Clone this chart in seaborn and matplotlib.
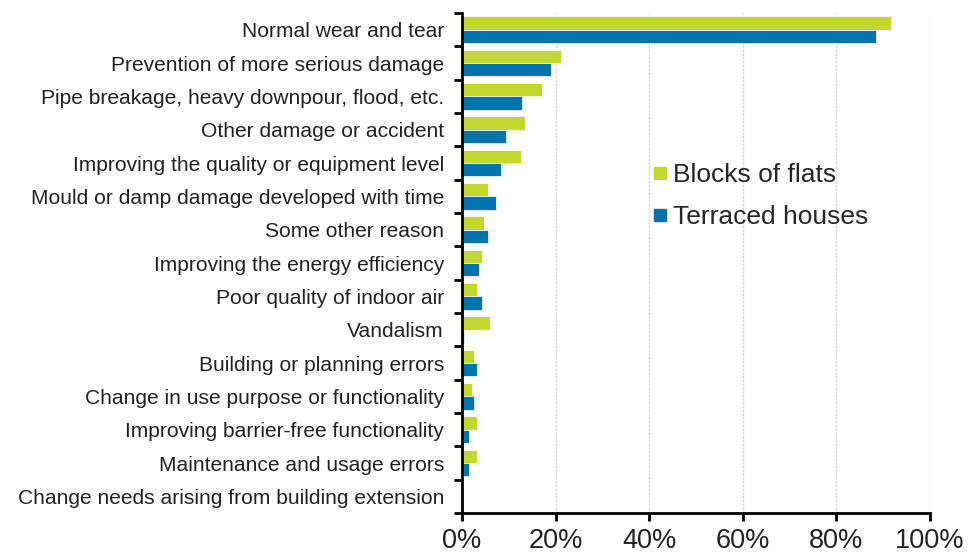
import matplotlib
matplotlib.use("Agg")
import matplotlib.pyplot as plt
import seaborn as sns
import pandas as pd
import numpy as np
from matplotlib.lines import Line2D
from matplotlib.ticker import FixedLocator, PercentFormatter

categories = [
    "Normal wear and tear",
    "Prevention of more serious damage",
    "Pipe breakage, heavy downpour, flood, etc.",
    "Other damage or accident",
    "Improving the quality or equipment level",
    "Mould or damp damage developed with time",
    "Some other reason",
    "Improving the energy efficiency",
    "Poor quality of indoor air",
    "Vandalism",
    "Building or planning errors",
    "Change in use purpose or functionality",
    "Improving barrier-free functionality",
    "Maintenance and usage errors",
    "Change needs arising from building extension",
]
blocks_of_flats = [91.6, 21.1, 17.0, 13.5, 12.5, 5.6, 4.6, 4.3, 3.2, 6.0, 2.6, 2.2, 3.2, 3.2, 0.0]
terraced_houses = [88.5, 19.0, 12.8, 9.4, 8.3, 7.3, 5.6, 3.6, 4.3, 0.5, 3.2, 2.6, 1.5, 1.5, 0.0]
series_names = ["Blocks of flats", "Terraced houses"]
x_ticks = [0, 20, 40, 60, 80, 100]

colors = ["#C1D82F", "#0072AE"]

df = pd.DataFrame({
    "reason": categories * 2,
    "value": blocks_of_flats + terraced_houses,
    "type": [series_names[0]] * len(categories) + [series_names[1]] * len(categories),
})

sns.set_style("white")
plt.rcParams["font.family"] = ["Liberation Sans", "DejaVu Sans"]

fig = plt.figure(figsize=(9.69, 5.59), dpi=100)
ax = fig.add_axes([462 / 969, 1 - 513 / 559, (930 - 462) / 969, (513 - 13) / 559])

sns.barplot(data=df, y="reason", x="value", hue="type", order=categories,
            hue_order=series_names, palette=colors, saturation=1, orient="h", width=0.8,
            edgecolor="white", linewidth=0.5, ax=ax, legend=False)

ax.set_xlim(0, 100)
ax.set_ylim(len(categories) - 0.5, -0.5)
ax.set_xlabel("")
ax.set_ylabel("")
ax.xaxis.set_major_locator(FixedLocator(x_ticks))
ax.xaxis.set_major_formatter(PercentFormatter(decimals=0))
ax.grid(axis="x", color="#d4d4d4", linestyle=(0, (2, 1)), linewidth=0.9)
ax.grid(axis="y", visible=False)
ax.set_axisbelow(True)

for side in ["top", "right"]:
    ax.spines[side].set_visible(False)
for side in ["left", "bottom"]:
    ax.spines[side].set_color("black")
    ax.spines[side].set_linewidth(2)

ax.tick_params(axis="x", which="major", bottom=True, direction="out", length=6, width=2,
               color="black", labelsize=19.5, pad=5, labelcolor="#222222")
ax.tick_params(axis="y", which="major", left=False, length=0, labelsize=15.1, pad=13,
               labelcolor="#222222")
ax.yaxis.set_minor_locator(FixedLocator(np.arange(-0.5, len(categories), 1.0)))
ax.tick_params(axis="y", which="minor", left=True, direction="out", length=6, width=2,
               color="black")

handles = [Line2D([0], [0], marker="s", linestyle="", markersize=8,
                  markerfacecolor=c, markeredgecolor=c) for c in colors]
ax.legend(handles, series_names, loc="upper left", bbox_to_anchor=(0.406, 0.70),
          frameon=False, fontsize=19, handletextpad=0.2, labelspacing=0.7,
          handlelength=0.6, borderaxespad=0, borderpad=0)

fig.savefig("out.png", dpi=100)
